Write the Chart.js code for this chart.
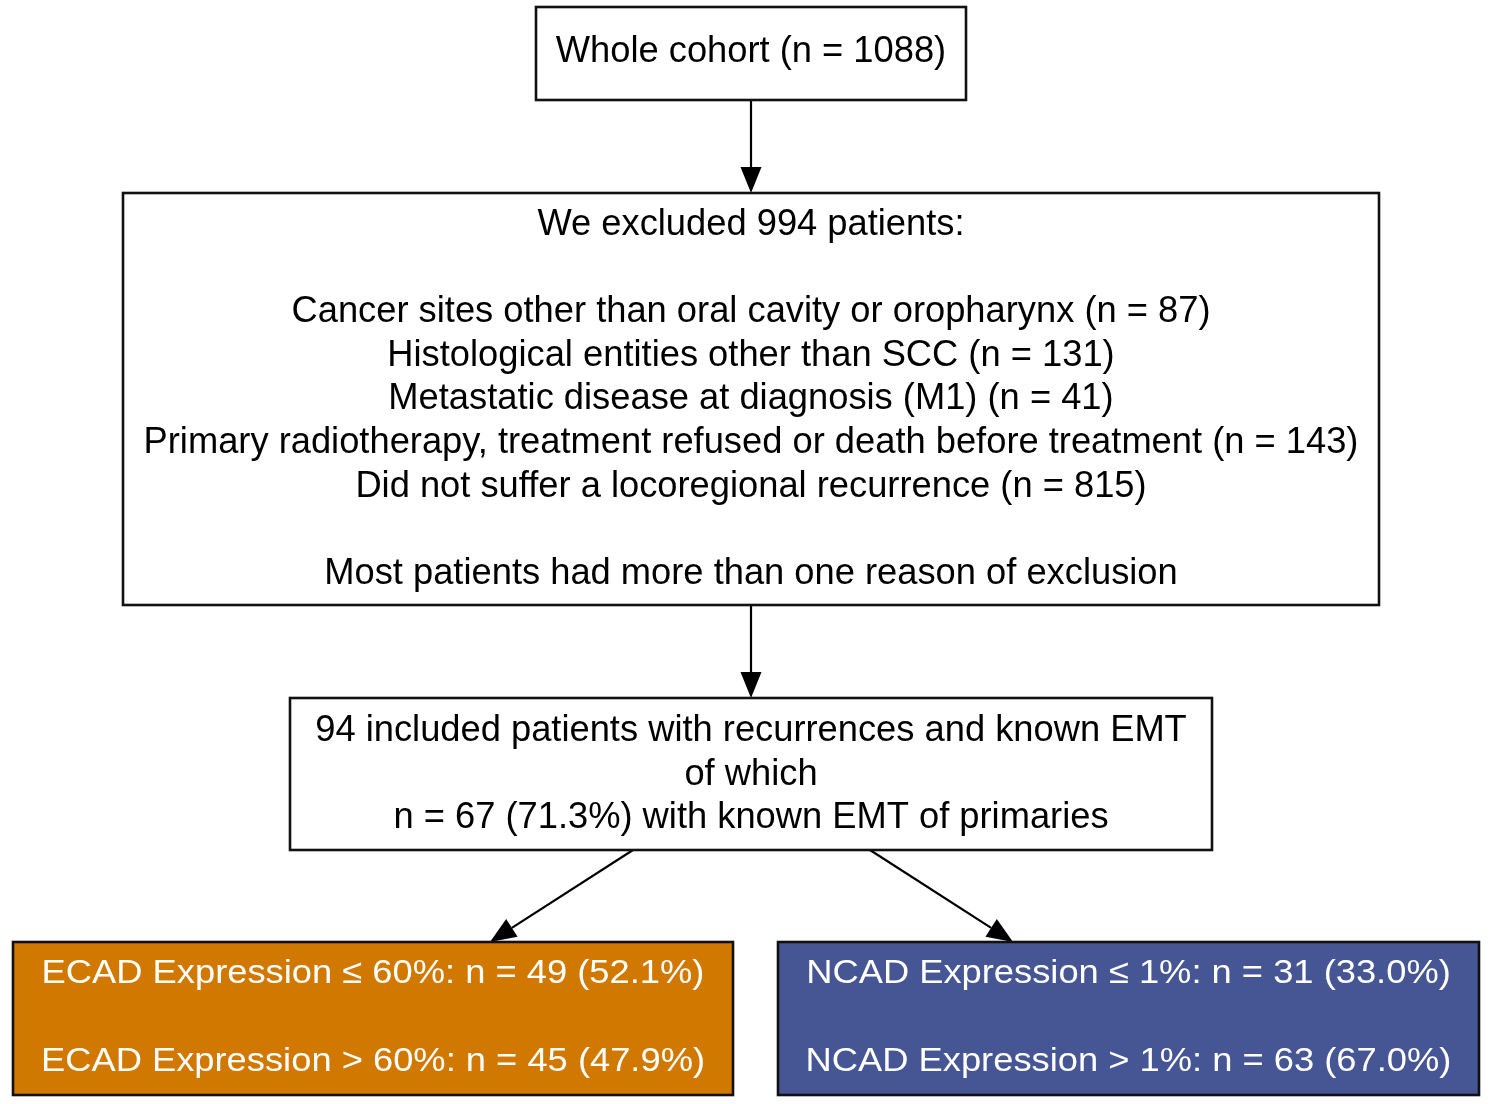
<!DOCTYPE html>
<html>
<head>
<meta charset="utf-8">
<script src="https://cdn.jsdelivr.net/npm/chart.js@4.4.0/dist/chart.umd.min.js"></script>
<style>
html,body{margin:0;padding:0;background:#fff;}
#wrap{width:1496px;height:1104px;}
</style>
</head>
<body>
<div id="wrap"><canvas id="c" width="1496" height="1104"></canvas></div>
<script>
// ---- Data: text content of each node ----
const nodeIds = ["cohort", "excluded", "included", "ecad", "ncad"];
const cohortLines = ["Whole cohort (n = 1088)"];
const excludedLines = [
  "We excluded 994 patients:",
  "",
  "Cancer sites other than oral cavity or oropharynx (n = 87)",
  "Histological entities other than SCC (n = 131)",
  "Metastatic disease at diagnosis (M1) (n = 41)",
  "Primary radiotherapy, treatment refused or death before treatment (n = 143)",
  "Did not suffer a locoregional recurrence (n = 815)",
  "",
  "Most patients had more than one reason of exclusion"
];
const includedLines = [
  "94 included patients with recurrences and known EMT",
  "of which",
  "n = 67 (71.3%) with known EMT of primaries"
];
const ecadLines = ["ECAD Expression \u2264 60%: n = 49 (52.1%)", "", "ECAD Expression > 60%: n = 45 (47.9%)"];
const ncadLines = ["NCAD Expression \u2264 1%: n = 31 (33.0%)", "", "NCAD Expression > 1%: n = 63 (67.0%)"];
const edgesFrom = ["cohort", "excluded", "included", "included"];
const edgesTo   = ["excluded", "included", "ecad", "ncad"];

// ---- Layout (in scale units, 1 unit = 1 px) ----
const layout = {
  cohort:   {x0:536, y0:7,   x1:966,  y1:100, fill:"#ffffff", color:"#000000", firstY:52,  size:36.3, stretch:1},
  excluded: {x0:123, y0:193, x1:1379, y1:605, fill:"#ffffff", color:"#000000", firstY:225, size:36.3, stretch:1},
  included: {x0:290, y0:698, x1:1212, y1:850, fill:"#ffffff", color:"#000000", firstY:731, size:36.3, stretch:1},
  ecad:     {x0:13,  y0:942, x1:733,  y1:1095, fill:"#d07800", color:"#ffffff", firstY:974, size:34, stretch:1.068},
  ncad:     {x0:778, y0:942, x1:1479, y1:1095, fill:"#465593", color:"#ffffff", firstY:974, size:34, stretch:1.068}
};
const edgeAnchors = [
  {sx:751, sy:100, ex:751, ey:193},
  {sx:751, sy:605, ex:751, ey:698},
  {sx:633, sy:850, ex:490, ey:942},
  {sx:870, sy:850, ex:1013, ey:942}
];
const lineStep = 43.6;
const textsById = {cohort:cohortLines, excluded:excludedLines, included:includedLines, ecad:ecadLines, ncad:ncadLines};

const flowPlugin = {
  id: "flow",
  afterDraw(chart) {
    const ctx = chart.ctx;
    const xs = chart.scales.x, ys = chart.scales.y;
    const X = v => xs.getPixelForValue(v), Y = v => ys.getPixelForValue(v);
    ctx.save();
    // edges
    edgeAnchors.forEach(e => {
      const sx = X(e.sx), sy = Y(e.sy), ex = X(e.ex), ey = Y(e.ey);
      const ang = Math.atan2(ey - sy, ex - sx);
      const hl = 26, hw = 10.5;
      const bx = ex - hl * Math.cos(ang), by = ey - hl * Math.sin(ang);
      ctx.strokeStyle = "#000"; ctx.lineWidth = 2.2;
      ctx.beginPath(); ctx.moveTo(sx, sy); ctx.lineTo(bx, by); ctx.stroke();
      ctx.fillStyle = "#000";
      ctx.beginPath();
      ctx.moveTo(ex, ey);
      ctx.lineTo(bx + hw * Math.sin(ang), by - hw * Math.cos(ang));
      ctx.lineTo(bx - hw * Math.sin(ang), by + hw * Math.cos(ang));
      ctx.closePath(); ctx.fill();
    });
    // nodes
    nodeIds.forEach(id => {
      const b = layout[id];
      const x0 = X(b.x0), y0 = Y(b.y0), x1 = X(b.x1), y1 = Y(b.y1);
      ctx.fillStyle = b.fill;
      ctx.fillRect(x0, y0, x1 - x0, y1 - y0);
      ctx.strokeStyle = "#111"; ctx.lineWidth = 2.6;
      ctx.strokeRect(x0, y0, x1 - x0, y1 - y0);
      ctx.fillStyle = b.color;
      ctx.font = b.size + "px 'Liberation Sans', Arial, sans-serif";
      ctx.textAlign = "center"; ctx.textBaseline = "middle";
      const cx = (x0 + x1) / 2;
      textsById[id].forEach((t, i) => {
        if (!t) return;
        const ty = Y(b.firstY + i * lineStep);
        ctx.save();
        ctx.translate(cx, ty);
        ctx.scale(b.stretch, 1);
        ctx.fillText(t, 0, 0);
        ctx.restore();
      });
    });
    ctx.restore();
  }
};

new Chart(document.getElementById("c"), {
  type: "scatter",
  data: { datasets: [{ data: [], pointRadius: 0 }] },
  options: {
    responsive: false, animation: false, devicePixelRatio: 1,
    layout: { padding: 0 },
    plugins: { legend: {display:false}, tooltip: {enabled:false} },
    scales: {
      x: { type:"linear", min:0, max:1496, display:false },
      y: { type:"linear", min:0, max:1104, reverse:true, display:false }
    }
  },
  plugins: [flowPlugin]
});
</script>
</body>
</html>
